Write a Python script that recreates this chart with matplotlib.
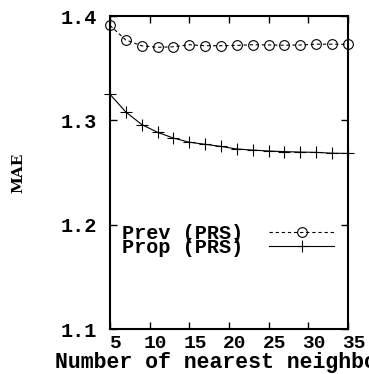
import matplotlib
matplotlib.use("Agg")
import matplotlib.pyplot as plt
import matplotlib.transforms as mtrans

plt.rcParams.update({"font.family": "Liberation Mono", "font.weight": "bold"})

K = [5, 7, 9, 11, 13, 15, 17, 19, 21, 23, 25, 27, 29, 31, 33, 35]
PREV = [1.391, 1.377, 1.3715, 1.3700, 1.3705, 1.3725, 1.3715, 1.3715,
        1.3718, 1.3725, 1.3722, 1.3720, 1.3722, 1.3730, 1.3730, 1.3728]
PROP = [1.325, 1.308, 1.296, 1.2885, 1.283, 1.279, 1.277, 1.275,
        1.2725, 1.2715, 1.2706, 1.2700, 1.2696, 1.2693, 1.2685, 1.2683]
XTICKS = [5, 10, 15, 20, 25, 30, 35]
YTICKS = [1.1, 1.2, 1.3, 1.4]

fig = plt.figure(figsize=(3.69, 3.74), dpi=100)
ax = fig.add_axes([0.298, 0.1203, 0.645, 0.8369])

ax.plot(K, PREV, color="black", lw=0.8, ls=(0, (3, 2.5)), marker="o",
        ms=7, mfc="none", mew=0.8, label="Prev (PRS)", clip_on=False)
ax.plot(K, PROP, color="black", lw=0.8, marker="+", ms=9, mew=0.8,
        label="Prop (PRS)", clip_on=False)

ax.set_xlim(5, 35)
ax.set_ylim(1.1, 1.4)
ax.set_xticks(XTICKS)
ax.set_yticks(YTICKS)
ax.set_yticklabels([f"{v:.1f}" for v in YTICKS])
ax.tick_params(direction="in", length=5, width=1, top=True, right=True,
               labelsize=14.5)
ax.tick_params(axis="x", pad=4, labelsize=14)
ax.tick_params(axis="y", pad=9)
shift = mtrans.ScaledTranslation(6 / 100, 0, fig.dpi_scale_trans)
for lab in ax.get_xticklabels():
    lab.set_transform(lab.get_transform() + shift)
for lab in ax.get_xticklabels() + ax.get_yticklabels():
    lab.set_fontweight("bold")
for s in ax.spines.values():
    s.set_linewidth(1.5)

ax.set_xlabel("Number of nearest neighbors", fontsize=15.5,
              fontweight="bold", labelpad=0)
ax.set_ylabel("MAE", fontsize=11, family="DejaVu Serif", fontweight="bold",
              labelpad=26)

leg = ax.legend(loc="upper left", bbox_to_anchor=(0.0, 0.375), frameon=False,
                markerfirst=False, handlelength=3.2,
                handletextpad=1.3, labelspacing=-0.22, borderaxespad=0.2,
                prop={"size": 14.5, "weight": "bold"})

fig.savefig("out.png", dpi=100)
